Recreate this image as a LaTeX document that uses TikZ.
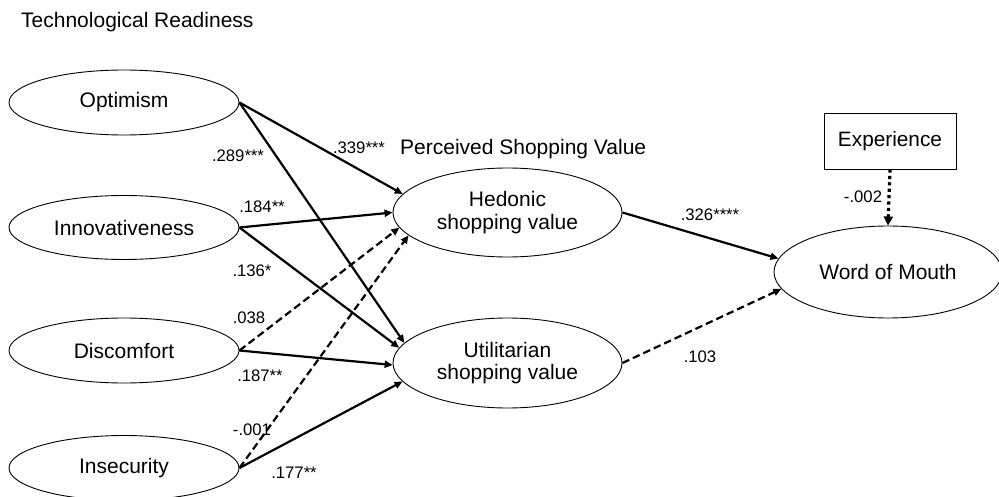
\documentclass[tikz,border=0pt]{standalone}
\usepackage{fontspec}
\setmainfont{Liberation Sans}
\usetikzlibrary{arrows.meta,shapes.geometric}
\begin{document}
\begin{tikzpicture}[x=1pt,y=-1pt,
  latent/.style={draw, ellipse, line width=0.9pt, minimum width=230pt, minimum height=65pt, inner sep=0pt, align=center, font=\fontsize{21}{22.5}\selectfont},
  obsbox/.style={draw, rectangle, line width=0.9pt, minimum width=132pt, minimum height=56pt, inner sep=0pt, font=\fontsize{20.8}{22}\selectfont},
  sigpath/.style={line width=2.2pt, -{Triangle[length=8pt,width=7pt]}},
  nspath/.style={sigpath, dash pattern=on 7.5pt off 4pt},
  ctrl/.style={line width=3.2pt, dash pattern=on 3.2pt off 3.2pt, -{Triangle[length=9pt,width=9pt]}},
  coef/.style={font=\fontsize{16.7}{18}\selectfont, inner sep=0pt},
  heading/.style={font=\fontsize{21}{22}\selectfont, inner sep=0pt}]
\useasboundingbox (0,0) rectangle (999,497);
\node[heading, anchor=base west] (tr) at (21,28) {Technological Readiness};
\node[heading, anchor=base west] (psv) at (400,155) {Perceived Shopping Value};

\node[latent] (opt) at (124,102.5) {Optimism};
\node[latent, minimum height=64pt] (inn) at (124,227.5) {Innovativeness};
\node[latent] (dis) at (124,350.5) {Discomfort};
\node[latent] (ins) at (124,468) {Insecurity};

\node[latent, minimum width=229pt, minimum height=89pt] (hed) at (507.5,212.5) {Hedonic\\shopping value};
\node[latent, minimum width=229pt, minimum height=90pt] (uti) at (507.5,363) {Utilitarian\\shopping value};
\node[latent, minimum width=228pt, minimum height=92pt] (wom) at (888,272) {Word of Mouth};
\node[obsbox] (exp) at (890,141) {Experience};

\draw[sigpath] (opt.east) -- (hed.170.5);
\draw[sigpath] (opt.east) -- (uti.169);
\draw[sigpath] (inn.east) -- (hed.180.5);
\draw[sigpath] (inn.east) -- (uti.172.5);
\draw[nspath] (dis.east) -- (hed.188.5);
\draw[sigpath] (dis.east) -- (uti.181);
\draw[nspath] (ins.east) -- (hed.193);
\draw[sigpath] (ins.east) -- (uti.190.5);
\draw[sigpath] (hed.east) -- (wom.173);
\draw[nspath] (uti.east) -- (wom.189);
\draw[ctrl] (exp.south) -- (wom.north);

\node[coef] (c1) at (238,156) {.289***};
\node[coef] (c2) at (359,148) {.339***};
\node[coef] (c3) at (262,207) {.184**};
\node[coef] (c4) at (252,271) {.136*};
\node[coef] (c5) at (249,318) {.038};
\node[coef] (c6) at (260,376) {.187**};
\node[coef] (c7) at (252,430) {-.001};
\node[coef] (c8) at (294,473) {.177**};
\node[coef] (c9) at (710,215) {.326****};
\node[coef] (c10) at (700,357) {.103};
\node[coef] (c11) at (863,197) {-.002};
\end{tikzpicture}
\end{document}
